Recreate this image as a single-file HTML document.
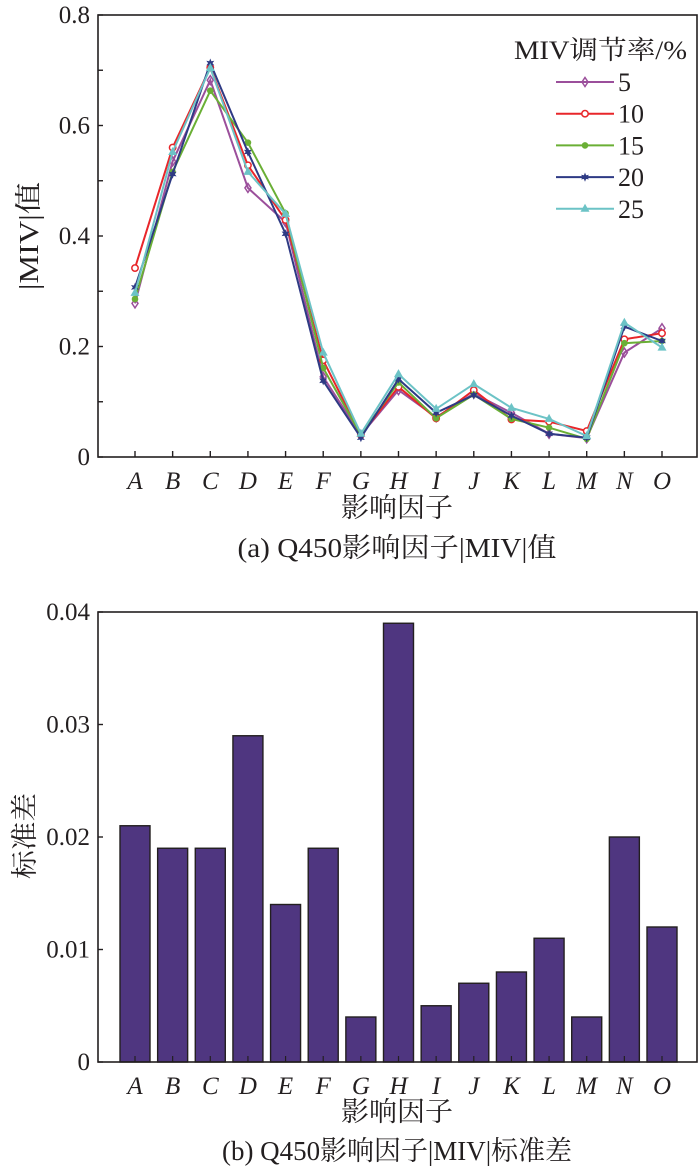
<!DOCTYPE html>
<html><head><meta charset="utf-8">
<style>
html,body{margin:0;padding:0;background:#fff;}
svg{display:block;font-family:"Liberation Serif","Noto Serif CJK SC","Noto Sans CJK SC",serif;}
</style></head>
<body>
<svg id="chart" width="700" height="1174" viewBox="0 0 700 1174" xmlns="http://www.w3.org/2000/svg">
<rect x="0" y="0" width="700" height="1174" fill="#fff"/>
<g id="topchart"></g>
<g id="bottomchart"></g>
</svg>
<script>
const categories = ["A","B","C","D","E","F","G","H","I","J","K","L","M","N","O"];
const seriesNames = ["5","10","15","20","25"];
const s5  = [0.278,0.535,0.682,0.487,0.425,0.145,0.040,0.121,0.072,0.115,0.080,0.042,0.034,0.189,0.233];
const s10 = [0.342,0.560,0.705,0.528,0.429,0.175,0.040,0.127,0.070,0.121,0.068,0.064,0.047,0.213,0.224];
const s15 = [0.286,0.516,0.663,0.569,0.441,0.161,0.040,0.135,0.070,0.113,0.069,0.053,0.033,0.206,0.210];
const s20 = [0.307,0.512,0.713,0.552,0.404,0.138,0.035,0.141,0.080,0.112,0.075,0.042,0.035,0.236,0.210];
const s25 = [0.297,0.552,0.704,0.516,0.440,0.189,0.042,0.150,0.087,0.132,0.089,0.069,0.038,0.243,0.198];
const topTicks = ["0","0.2","0.4","0.6","0.8"];
const stdValues = [0.021,0.019,0.019,0.029,0.014,0.019,0.004,0.039,0.005,0.007,0.008,0.011,0.004,0.020,0.012];
const bottomTicks = ["0","0.01","0.02","0.03","0.04"];

const NS="http://www.w3.org/2000/svg";
function mk(tag,attrs,parent){const e=document.createElementNS(NS,tag);for(const k in attrs)e.setAttribute(k,attrs[k]);parent.appendChild(e);return e;}
function txt(s,attrs,parent){const e=mk("text",attrs,parent);e.textContent=s;return e;}

const L=98,R=697;
const xPos=i=>135+i*(662-135)/14;
const FS=25;

// ---------- TOP CHART ----------
const topG=document.getElementById("topchart");
const T0=15,T1=457;
const yTop=v=>T1-(v/0.8)*(T1-T0);
const colors=["#9b4f9b","#e8262a","#6aaf35","#2e3a84","#6cc3c6"];
const allSeries=[s5,s10,s15,s20,s25];

function marker(k,x,y,parent){
  const c=colors[k];let m;
  if(k===0){m=mk("polygon",{points:`${x},${y-4.5} ${x+3},${y} ${x},${y+4.5} ${x-3},${y}`,fill:"none",stroke:c,"stroke-width":1.5},parent);}
  else if(k===1){m=mk("circle",{cx:x,cy:y,r:3.2,fill:"#fff",stroke:c,"stroke-width":1.5},parent);}
  else if(k===2){m=mk("circle",{cx:x,cy:y,r:3.3,fill:c},parent);}
  else if(k===3){let p=[];for(let j=0;j<12;j++){const a=Math.PI*j/6-Math.PI/2;const r=j%2?2.2:4.6;p.push((x+r*Math.cos(a)).toFixed(1)+","+(y+r*Math.sin(a)).toFixed(1));}
    m=mk("polygon",{points:p.join(" "),fill:c},parent);}
  else {m=mk("polygon",{points:`${x},${y-5} ${x+4.5},${y+3} ${x-4.5},${y+3}`,fill:c},parent);}
  return m;
}

for(let k=0;k<allSeries.length;k++){
  const g=mk("g",{},topG);
  
  
  const pts=allSeries[k].map((v,i)=>xPos(i).toFixed(1)+","+yTop(v).toFixed(1)).join(" ");
  const pl=mk("polyline",{points:pts,fill:"none",stroke:colors[k],"stroke-width":2},g);
  
  
  allSeries[k].forEach((v,i)=>{
    const m=marker(k,xPos(i),yTop(v),g);
    
    
  });
}
const f1=mk("rect",{x:L,y:T0,width:R-L,height:T1-T0,fill:"none",stroke:"#231f20","stroke-width":1.6},topG);


for(let j=0;j<=8;j++){const y=yTop(j*0.1);mk("line",{x1:L,y1:y,x2:L+5,y2:y,stroke:"#231f20","stroke-width":1.4},topG);}
topTicks.forEach((s,j)=>{
  const t=txt(s,{x:90,y:yTop(j*0.2)+8,"text-anchor":"end","font-size":FS,fill:"#231f20"},topG);
  
  
});
categories.forEach((c,i)=>{
  mk("line",{x1:xPos(i),y1:T1,x2:xPos(i),y2:T1-6,stroke:"#231f20","stroke-width":1.4},topG);
  const t=txt(c,{x:xPos(i),y:489,"text-anchor":"middle","font-size":FS,"font-style":"italic",fill:"#231f20"},topG);
  
  
});
let t=txt("影响因子",{x:397,y:517,"text-anchor":"middle","font-size":27,textLength:112,lengthAdjust:"spacingAndGlyphs",fill:"#231f20"},topG);


t=txt("(a) Q450影响因子|MIV|值",{x:397,y:557,"text-anchor":"middle","font-size":27,textLength:319,lengthAdjust:"spacingAndGlyphs",fill:"#231f20"},topG);


t=txt("|MIV|值",{x:0,y:0,"text-anchor":"middle","font-size":27,textLength:108,lengthAdjust:"spacingAndGlyphs",fill:"#231f20",transform:"translate(38,236) rotate(-90)"},topG);


const lg=mk("g",{},topG);


t=txt("MIV调节率/%",{x:514,y:59,"font-size":26,textLength:173,lengthAdjust:"spacingAndGlyphs",fill:"#231f20"},lg);


seriesNames.forEach((n,k)=>{
  const y=82+k*31.7;
  const e=mk("g",{},lg);
  
  
  mk("line",{x1:556,y1:y,x2:614,y2:y,stroke:colors[k],"stroke-width":2},e);
  marker(k,585,y,e);
  txt(n,{x:618,y:y+9,"font-size":26,fill:"#231f20"},e);
});

// ---------- BOTTOM CHART ----------
const botG=document.getElementById("bottomchart");
const B0=612,B1=1062;
const yBot=v=>B1-(v/0.04)*(B1-B0);
const bw=30;
stdValues.forEach((v,i)=>{
  const r=mk("rect",{x:xPos(i)-bw/2,y:yBot(v),width:bw,height:B1-yBot(v),fill:"#4f3680",stroke:"#231f20","stroke-width":1.4},botG);
  
  
});
const f2=mk("rect",{x:L,y:B0,width:R-L,height:B1-B0,fill:"none",stroke:"#231f20","stroke-width":1.6},botG);


bottomTicks.forEach((s,j)=>{
  const y=yBot(j*0.01);
  mk("line",{x1:L,y1:y,x2:L+5,y2:y,stroke:"#231f20","stroke-width":1.4},botG);
  const tt=txt(s,{x:90,y:y+8,"text-anchor":"end","font-size":FS,fill:"#231f20"},botG);
  
  
});
categories.forEach((c,i)=>{
  mk("line",{x1:xPos(i),y1:B1,x2:xPos(i),y2:B1-6,stroke:"#231f20","stroke-width":1.2},botG);
  const tt=txt(c,{x:xPos(i),y:1094,"text-anchor":"middle","font-size":FS,"font-style":"italic",fill:"#231f20"},botG);
  
  
});
t=txt("影响因子",{x:397,y:1121,"text-anchor":"middle","font-size":27,textLength:112,lengthAdjust:"spacingAndGlyphs",fill:"#231f20"},botG);


t=txt("(b) Q450影响因子|MIV|标准差",{x:397,y:1160,"text-anchor":"middle","font-size":27,textLength:350,lengthAdjust:"spacingAndGlyphs",fill:"#231f20"},botG);


t=txt("标准差",{x:0,y:0,"text-anchor":"middle","font-size":27,textLength:86,lengthAdjust:"spacingAndGlyphs",fill:"#231f20",transform:"translate(34,836) rotate(-90)"},botG);


</script>
</body></html>
